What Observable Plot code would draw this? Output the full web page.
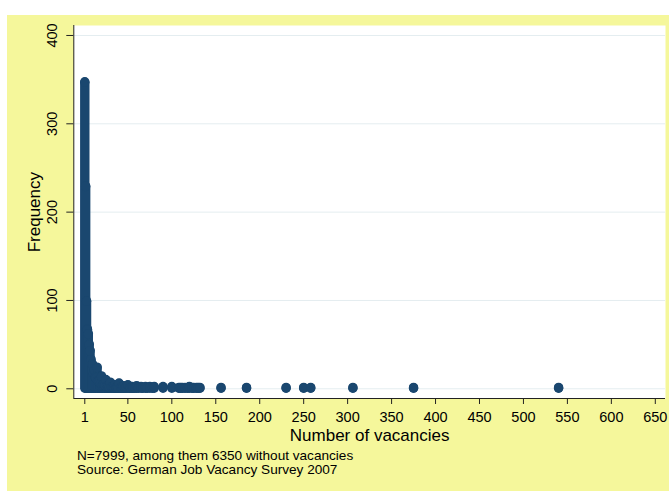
<!DOCTYPE html>
<html><head><meta charset="utf-8">
<script src="https://cdn.jsdelivr.net/npm/d3@7"></script>
<script src="https://cdn.jsdelivr.net/npm/@observablehq/plot@0.6"></script>
<style>
html,body{margin:0;padding:0;background:#fff;overflow:hidden}
#bg{position:absolute;left:7px;top:15px;width:662px;height:476px;background:#f5f79b;font-family:"Liberation Sans",Arial,sans-serif;overflow:hidden}
#bg svg{display:block}
#cap{margin-top:4px;padding-left:70px;font-size:13.6px;line-height:13.7px;color:#000}
</style></head><body><div id="bg"></div><script>
const vacancies = [1,2,3,4,5,6,7,8,9,10,11,12,13,14,15,16,17,18,19,20,
  21,22,23,24,25,26,27,28,29,30,31,32,33,34,35,36,37,38,39,40,
  42,43,44,45,47,48,50,52,53,55,56,58,60,62,65,67,70,72,75,78,
  80,90,100,108,110,112,115,118,120,123,125,128,130,132,
  156,185,230,250,258,306,375,540];
const frequency = [347,229,99,67,62,50,43,33,28,27,17,21,13,12,24,9,8,9,6,14,
  4,5,4,4,10,3,3,3,2,7,2,2,2,2,4,2,1,2,1,6,
  2,1,1,3,1,2,4,1,1,2,1,1,3,1,2,1,2,1,2,1,
  2,2,2,1,1,1,1,1,2,1,1,1,1,1,
  1,1,1,1,1,1,1,1];
const xTicks = [1,50,100,150,200,250,300,350,400,450,500,550,600,650];
const yTicks = [0,100,200,300,400];
const xLabel = "Number of vacancies";
const yLabel = "Frequency";
const captionLines = ["N=7999, among them 6350 without vacancies", "Source: German Job Vacancy Survey 2007"];

const data = vacancies.map((v, i) => ({v, f: frequency[i]}));
const navy = "#1a476f";
const font = '"Liberation Sans", Arial, sans-serif';

const chart = Plot.plot({
  width: 662, height: 430,
  marginLeft: 66.3, marginRight: 4, marginTop: 10, marginBottom: 47,
  style: {background: "transparent", fontFamily: font, color: "#000", overflow: "visible"},
  x: {domain: [-11.5, 661.6]},
  y: {domain: [-11, 411.3]},
  marks: [
    Plot.frame({fill: "white", stroke: "none"}),
    Plot.gridY(yTicks, {stroke: "#e4edf0", strokeOpacity: 1, strokeWidth: 1}),
    Plot.ruleX(data, {x: "v", y1: 0, y2: "f", stroke: navy, strokeWidth: 9.4, strokeLinecap: "round"}),
    Plot.dot(data, {x: "v", y: "f", r: 4.7, fill: navy, stroke: "none"}),
    Plot.ruleX([-11.5], {stroke: "#222", strokeWidth: 1}),
    Plot.ruleY([-11], {stroke: "#222", strokeWidth: 1}),
    Plot.axisX({ticks: xTicks, tickSize: 6, tickPadding: 7.4, fontSize: 14.5, label: null, tickFormat: d => String(d), stroke: "#222"}),
    Plot.axisY({ticks: yTicks, tickSize: 7, tickPadding: 14.2, tickRotate: -90, textAnchor: "middle", lineAnchor: "middle", fontSize: 14.5, label: null, tickFormat: d => String(d), stroke: "#222"}),
    Plot.text([{t: xLabel}], {text: "t", frameAnchor: "bottom", dy: 36.6, lineAnchor: "middle", fontSize: 17, fill: "#000"}),
    Plot.text([{t: yLabel, y: 200}], {text: "t", y: "y", frameAnchor: "left", dx: -39.7, rotate: -90, textAnchor: "middle", lineAnchor: "middle", fontSize: 17, fill: "#000"})
  ]
});
const bg = document.getElementById("bg");
bg.appendChild(chart);
const cap = document.createElement("div");
cap.id = "cap";
cap.innerHTML = captionLines.map(s => `<div>${s}</div>`).join("");
bg.appendChild(cap);
</script></body></html>
